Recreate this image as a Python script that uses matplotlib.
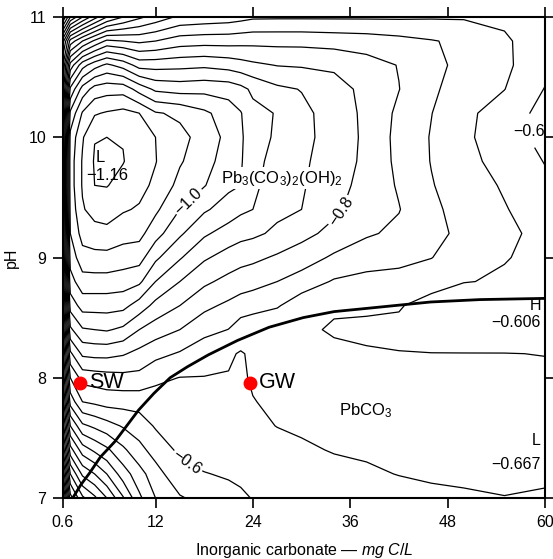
import numpy as np
import matplotlib
matplotlib.use('Agg')
import matplotlib.pyplot as plt

plt.rcParams['font.family'] = ['Liberation Sans', 'DejaVu Sans']
plt.rcParams['mathtext.fontset'] = 'custom'
plt.rcParams['mathtext.rm'] = 'Liberation Sans'
plt.rcParams['mathtext.it'] = 'Liberation Sans:italic'
plt.rcParams['contour.negative_linestyle'] = 'solid'

# grid nodes (inorganic carbonate mg C/L, pH)
dic = [0.6, 1.5, 3, 4.5, 6, 8, 10, 12, 15, 18, 21, 22.5, 24, 27, 30, 34, 38, 42, 46, 50, 55, 60]
ph = [7.0, 7.2, 7.4, 7.6, 7.8, 8.0, 8.2, 8.4, 8.6, 8.8, 9.0,
      9.2, 9.4, 9.6, 9.8, 10.0, 10.2, 10.4, 10.6, 10.8, 11.0]

# log Pb, one list per carbonate column (pH 7 -> 11)
logpb_cols = [
    [0.30, 0.15, 0.00, -0.12, -0.22, -0.30, -0.38, -0.45, -0.51, -0.55, -0.58, -0.60, -0.61, -0.615, -0.615, -0.60, -0.57, -0.52, -0.45, -0.33, -0.05],
    [-0.03, -0.15, -0.28, -0.40, -0.52, -0.60, -0.69, -0.79, -0.87, -0.93, -0.97, -1.00, -1.015, -1.025, -1.025, -1.015, -0.96, -0.86, -0.72, -0.52, -0.20],
    [-0.14, -0.26, -0.375, -0.49, -0.60, -0.67, -0.76, -0.845, -0.92, -0.98, -1.03, -1.07, -1.095, -1.105, -1.105, -1.095, -1.055, -0.97, -0.83, -0.60, -0.30],
    [-0.19, -0.30, -0.41, -0.51, -0.61, -0.675, -0.765, -0.85, -0.92, -0.98, -1.035, -1.08, -1.12, -1.15, -1.155, -1.148, -1.095, -1.02, -0.88, -0.66, -0.38],
    [-0.25, -0.35, -0.44, -0.53, -0.62, -0.68, -0.765, -0.855, -0.92, -0.98, -1.035, -1.085, -1.125, -1.152, -1.16, -1.15, -1.105, -1.03, -0.91, -0.71, -0.45],
    [-0.345, -0.425, -0.49, -0.555, -0.62, -0.685, -0.755, -0.84, -0.915, -0.975, -1.025, -1.07, -1.105, -1.135, -1.152, -1.148, -1.115, -1.03, -0.88, -0.70, -0.50],
    [-0.44, -0.48, -0.535, -0.575, -0.62, -0.685, -0.735, -0.80, -0.878, -0.96, -1.02, -1.065, -1.095, -1.115, -1.128, -1.128, -1.10, -0.98, -0.83, -0.69, -0.54],
    [-0.50, -0.53, -0.57, -0.605, -0.63, -0.66, -0.715, -0.775, -0.835, -0.90, -0.96, -1.02, -1.06, -1.09, -1.102, -1.10, -1.055, -0.94, -0.83, -0.70, -0.57],
    [-0.545, -0.585, -0.61, -0.625, -0.64, -0.649, -0.695, -0.75, -0.80, -0.85, -0.905, -0.958, -1.0, -1.035, -1.055, -1.065, -1.04, -0.93, -0.835, -0.725, -0.61],
    [-0.567, -0.598, -0.62, -0.635, -0.645, -0.649, -0.665, -0.718, -0.762, -0.81, -0.857, -0.908, -0.957, -1.003, -1.02, -1.03, -1.01, -0.935, -0.84, -0.73, -0.618],
    [-0.585, -0.605, -0.62, -0.632, -0.642, -0.648, -0.655, -0.699, -0.74, -0.785, -0.83, -0.878, -0.928, -0.96, -0.975, -0.985, -0.975, -0.93, -0.83, -0.73, -0.625],
    [-0.592, -0.61, -0.624, -0.636, -0.645, -0.646, -0.647, -0.672, -0.728, -0.773, -0.819, -0.866, -0.91, -0.95, -0.955, -0.958, -0.953, -0.915, -0.82, -0.733, -0.633],
    [-0.602, -0.615, -0.628, -0.64, -0.649, -0.653, -0.656, -0.66, -0.722, -0.766, -0.812, -0.86, -0.90, -0.912, -0.918, -0.92, -0.915, -0.89, -0.81, -0.735, -0.642],
    [-0.61, -0.622, -0.635, -0.651, -0.655, -0.657, -0.658, -0.657, -0.705, -0.75, -0.793, -0.84, -0.862, -0.872, -0.88, -0.893, -0.897, -0.86, -0.798, -0.735, -0.643],
    [-0.617, -0.63, -0.645, -0.655, -0.658, -0.66, -0.66, -0.657, -0.67, -0.728, -0.775, -0.815, -0.85, -0.855, -0.858, -0.864, -0.862, -0.848, -0.795, -0.735, -0.643],
    [-0.625, -0.64, -0.652, -0.658, -0.661, -0.662, -0.658, -0.646, -0.655, -0.695, -0.742, -0.785, -0.81, -0.82, -0.828, -0.83, -0.83, -0.822, -0.79, -0.73, -0.643],
    [-0.63, -0.645, -0.655, -0.661, -0.663, -0.662, -0.655, -0.64, -0.658, -0.685, -0.722, -0.756, -0.772, -0.782, -0.788, -0.79, -0.788, -0.785, -0.77, -0.725, -0.643],
    [-0.637, -0.651, -0.658, -0.663, -0.664, -0.66, -0.652, -0.636, -0.655, -0.685, -0.712, -0.74, -0.752, -0.745, -0.738, -0.735, -0.74, -0.751, -0.748, -0.715, -0.643],
    [-0.642, -0.655, -0.661, -0.665, -0.664, -0.66, -0.651, -0.625, -0.625, -0.675, -0.701, -0.712, -0.71, -0.703, -0.698, -0.697, -0.701, -0.71, -0.715, -0.703, -0.645],
    [-0.645, -0.657, -0.664, -0.666, -0.664, -0.658, -0.651, -0.618, -0.612, -0.652, -0.678, -0.69, -0.682, -0.673, -0.665, -0.66, -0.663, -0.672, -0.685, -0.69, -0.645],
    [-0.649, -0.659, -0.665, -0.667, -0.664, -0.657, -0.651, -0.613, -0.608, -0.645, -0.652, -0.656, -0.653, -0.645, -0.632, -0.622, -0.625, -0.651, -0.66, -0.655, -0.643],
    [-0.645, -0.657, -0.664, -0.667, -0.664, -0.658, -0.649, -0.609, -0.607, -0.635, -0.64, -0.642, -0.625, -0.61, -0.598, -0.585, -0.585, -0.598, -0.615, -0.63, -0.635],
]

# PbCO3 / Pb3(CO3)2(OH)2 boundary
bnd_dic = [1.8, 2.8, 3.9, 5.2, 7.0, 9.9, 11.8, 13.8, 15.9, 18.5, 22.1, 26.0, 30.2, 34.0, 38.5, 45.9, 52.0, 60.0]
bnd_ph = [7.0, 7.11, 7.21, 7.34, 7.47, 7.73, 7.87, 8.0, 8.09, 8.19, 8.31, 8.42, 8.5, 8.55, 8.58, 8.63, 8.65, 8.66]

# water samples
sample_names = ['SW', 'GW']
sample_dic = [2.7, 23.7]
sample_ph = [7.96, 7.96]

z = np.array(logpb_cols).T
all_levels = np.round(np.arange(-1.15, 0.46, 0.05), 2)
label_levels = [-1.0, -0.8, -0.6]
plain_levels = [v for v in all_levels if v not in label_levels]

fig = plt.figure(figsize=(5.53, 5.59), dpi=100)
fig.subplots_adjust(left=63/553, right=545/553, bottom=1-498/559, top=1-17/559)
ax = fig.add_subplot(111)
ax.set_xlim(0.6, 60)
ax.set_ylim(7, 11)

ax.contour(dic, ph, z, levels=plain_levels, colors='k', linewidths=0.9)
cs = ax.contour(dic, ph, z, levels=label_levels, colors='k', linewidths=0.9)

def fmt(v):
    return f'{v:.1f}'.replace('-', '\u2212')

labels = ax.clabel(cs, manual=[(15.9, 9.48), (35.4, 9.35), (16.3, 7.36), (57.5, 10.05)],
                   fmt=fmt, fontsize=11.5, inline=True, inline_spacing=2)
labels[-1].set_rotation(0)

ax.plot(bnd_dic, bnd_ph, color='k', lw=2)

ax.plot(sample_dic, sample_ph, 'o', color='red', ms=9, zorder=5)
for name, x, y in zip(sample_names, sample_dic, sample_ph):
    ax.text(x + 1.1, y, name, fontsize=15.5, va='center', ha='left')

ax.text(5.2, 9.83, 'L', fontsize=12, ha='center', va='center')
ax.text(6.0, 9.68, '\u22121.16', fontsize=12, ha='center', va='center')
ax.text(27.6, 9.66, r'Pb$_3$(CO$_3$)$_2$(OH)$_2$', fontsize=12, ha='center', va='center',
        bbox=dict(fc='white', ec='none', pad=1), zorder=4)
ax.text(37.9, 7.73, r'PbCO$_3$', fontsize=12, ha='center', va='center')
ax.text(59.5, 8.6, 'H', fontsize=11.5, ha='right', va='center')
ax.text(59.5, 8.46, '\u22120.606', fontsize=11.5, ha='right', va='center')
ax.text(59.5, 7.48, 'L', fontsize=11.5, ha='right', va='center')
ax.text(59.5, 7.28, '\u22120.667', fontsize=11.5, ha='right', va='center')

ax.set_xticks([0.6, 12, 24, 36, 48, 60])
ax.set_xticklabels(['0.6', '12', '24', '36', '48', '60'])
ax.set_yticks([7, 8, 9, 10, 11])
ax.tick_params(direction='out', length=7, width=1.2, labelsize=11.5,
               top=True, right=True, pad=5)
for s in ax.spines.values():
    s.set_linewidth(1.5)

ax.set_xlabel(r'Inorganic carbonate — $\it{mg\ C/L}$', fontsize=11.5, labelpad=8)
ax.set_ylabel('pH', fontsize=11.5, labelpad=7)

fig.savefig('out.png', dpi=100)
